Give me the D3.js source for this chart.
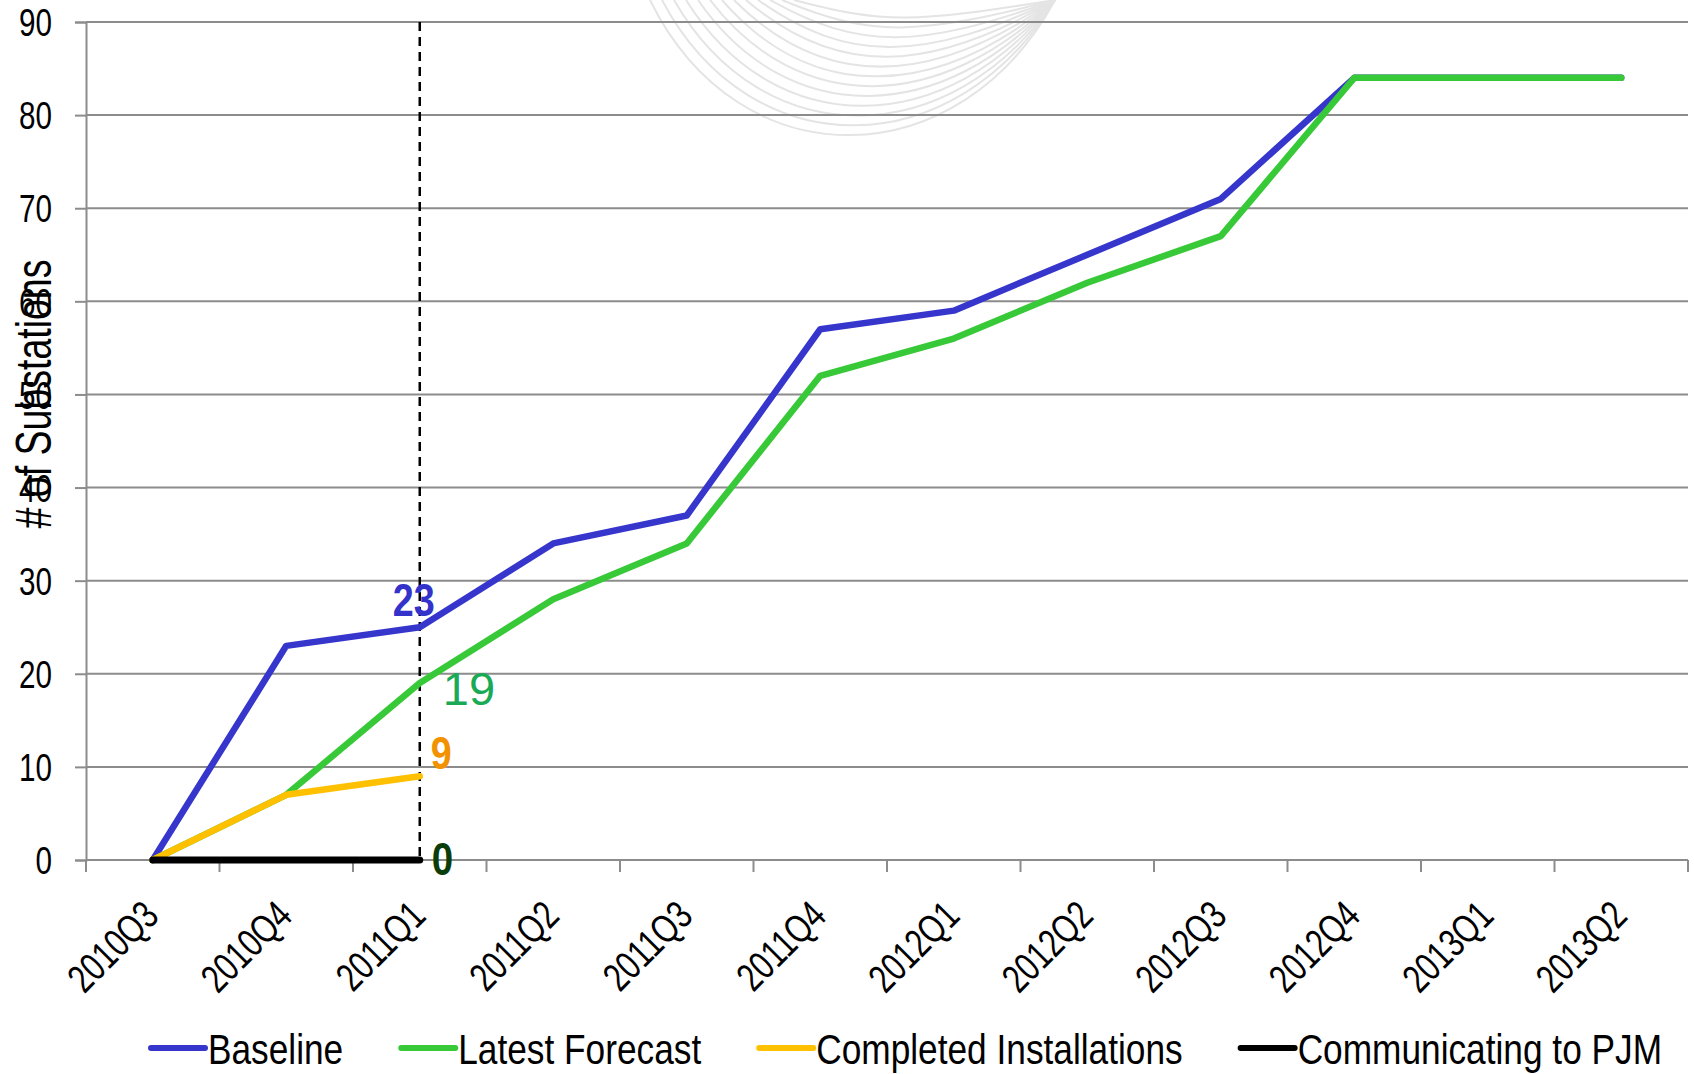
<!DOCTYPE html>
<html>
<head>
<meta charset="utf-8">
<script src="https://cdn.jsdelivr.net/npm/d3@7"></script>
<style>
  body { margin: 0; background: #fff; }
  svg { display: block; }
  text { font-family: "Liberation Sans", Arial, sans-serif; }
</style>
</head>
<body>
<svg id="chart" width="1694" height="1074"></svg>
<script>
// categories and series
const quarters = ['2010Q3', '2010Q4', '2011Q1', '2011Q2', '2011Q3', '2011Q4',
  '2012Q1', '2012Q2', '2012Q3', '2012Q4', '2013Q1', '2013Q2'];
const baseline = [0, 23, 25, 34, 37, 57, 59, 65, 71, 84, 84, 84];
const latestForecast = [0, 7, 19, 28, 34, 52, 56, 62, 67, 84, 84, 84];
const completed = [0, 7, 9];
const communicating = [0, 0, 0];
const yTicks = [0, 10, 20, 30, 40, 50, 60, 70, 80, 90];
const legendNames = ['Baseline', 'Latest Forecast', 'Completed Installations', 'Communicating to PJM'];
// callouts at the "today" quarter
const callouts = [
  { text: '23', value: 25 },
  { text: '19', value: 19 },
  { text: '9', value: 9 },
  { text: '0', value: 0 }
];
const todayQuarter = '2011Q1';

const LEFT = 86;
const RIGHT = 1688;
const TOP = 22;
const BOTTOM = 860;
// no narrow font installed, so squeeze Arial-metric text sideways
const NARROW = 'scale(0.82,1)';

const svg = d3.select('svg#chart');

const x = d3.scaleBand().domain(quarters).range([LEFT, RIGHT]);
const y = d3.scaleLinear().domain([0, 90]).range([BOTTOM, TOP]);
const cx = (q) => x(q) + x.bandwidth() / 2;

// faint watermark arcs at the top
const wm = svg.append('g').attr('fill', 'none').attr('stroke', '#e4e4e4').attr('stroke-width', 2);
for (let i = 0; i < 13; i++) {
  const bottom = 138 - i * 10;
  const x0 = 650 + i * 12;
  wm.append('path')
    .attr('d', `M${x0},0 C${x0 + 90},${bottom * 1.33} ${960 - i * 4},${bottom * 1.28} 1055,0`);
}

// gridlines
svg.append('g')
  .selectAll('line')
  .data(yTicks.slice(1))
  .enter()
  .append('line')
  .attr('x1', LEFT)
  .attr('x2', RIGHT)
  .attr('y1', (d) => y(d))
  .attr('y2', (d) => y(d))
  .attr('stroke', '#8c8c8c')
  .attr('stroke-width', 2);

// y axis
const yAxis = svg.append('g')
  .attr('transform', `translate(${LEFT},0)`)
  .call(d3.axisLeft(y).tickValues(yTicks).tickSize(11));
yAxis.select('.domain').attr('stroke', '#8c8c8c').attr('stroke-width', 2);
yAxis.selectAll('.tick line').attr('stroke', '#8c8c8c').attr('stroke-width', 2);
yAxis.selectAll('.tick text')
  .attr('font-family', null)
  .attr('font-size', 38)
  .attr('fill', '#000')
  .attr('x', null)
  .attr('dy', '0.36em')
  .attr('text-anchor', 'end')
  .attr('transform', `translate(-34,0) scale(0.78,1)`);

// x axis: ticks on the band edges
svg.append('line')
  .attr('x1', LEFT).attr('x2', RIGHT)
  .attr('y1', y(0)).attr('y2', y(0))
  .attr('stroke', '#8c8c8c').attr('stroke-width', 2);
const edges = quarters.map((q) => x(q)).concat([RIGHT]);
svg.append('g')
  .selectAll('line')
  .data(edges)
  .enter()
  .append('line')
  .attr('x1', (d) => d).attr('x2', (d) => d)
  .attr('y1', y(0)).attr('y2', y(0) + 12)
  .attr('stroke', '#8c8c8c').attr('stroke-width', 2);

svg.append('g')
  .selectAll('text')
  .data(quarters)
  .enter()
  .append('text')
  .attr('text-anchor', 'end')
  .attr('font-size', 40)
  .attr('transform', (d) => `translate(${cx(d) + 8},${y(0) + 58}) rotate(-45) scale(0.76,1)`)
  .text((d) => d);

// y title
svg.append('text')
  .attr('transform', 'translate(51,394) rotate(-90) scale(0.75,1)')
  .attr('text-anchor', 'middle')
  .attr('font-size', 50)
  .text('# of Substations');

// today marker
svg.append('line')
  .attr('x1', cx(todayQuarter)).attr('x2', cx(todayQuarter))
  .attr('y1', y(90)).attr('y2', y(0))
  .attr('stroke', '#000').attr('stroke-width', 2.5)
  .attr('stroke-dasharray', '9,6');

// series lines
const line = d3.line()
  .x((d, i) => cx(quarters[i]))
  .y((d) => y(d));

const series = [
  { name: legendNames[0], values: baseline, color: '#3636cc', width: 6.5 },
  { name: legendNames[1], values: latestForecast, color: '#38c938', width: 6.5 },
  { name: legendNames[2], values: completed, color: '#ffc000', width: 6.5 },
  { name: legendNames[3], values: communicating, color: '#000000', width: 7 }
];

svg.append('g')
  .selectAll('path')
  .data(series)
  .enter()
  .append('path')
  .attr('d', (d) => line(d.values))
  .attr('fill', 'none')
  .attr('stroke', (d) => d.color)
  .attr('stroke-width', (d) => d.width)
  .attr('stroke-linecap', 'round')
  .attr('stroke-linejoin', 'round');

// callout numbers
const calloutStyle = [
  { dx: -6, dy: -11, anchor: 'middle', color: '#3333cc', weight: 'bold', squeeze: true, size: 46 },
  { dx: 23, dy: 22, anchor: 'start', color: '#1aaa55', weight: 'normal', squeeze: false, size: 47 },
  { dx: 11, dy: -7, anchor: 'start', color: '#f39200', weight: 'bold', squeeze: true, size: 46 },
  { dx: 12, dy: 15, anchor: 'start', color: '#0b3d0b', weight: 'bold', squeeze: true, size: 47 }
];
svg.append('g')
  .selectAll('text')
  .data(callouts)
  .enter()
  .append('text')
  .attr('transform', (d, i) => {
    const st = calloutStyle[i];
    return `translate(${cx(todayQuarter) + st.dx},${y(d.value) + st.dy})` + (st.squeeze ? ` ${NARROW}` : '');
  })
  .attr('text-anchor', (d, i) => calloutStyle[i].anchor)
  .attr('fill', (d, i) => calloutStyle[i].color)
  .attr('font-weight', (d, i) => calloutStyle[i].weight)
  .attr('font-size', (d, i) => calloutStyle[i].size)
  .text((d) => d.text);

// legend
const legend = svg.append('g').attr('transform', 'translate(151,1048)');
let lx = 0;
series.forEach((s) => {
  legend.append('line')
    .attr('x1', lx).attr('x2', lx + 54)
    .attr('y1', 0).attr('y2', 0)
    .attr('stroke', s.color).attr('stroke-width', 6)
    .attr('stroke-linecap', 'round');
  const t = legend.append('text')
    .attr('transform', `translate(${lx + 57},16) ${NARROW}`)
    .attr('font-size', 43)
    .text(s.name);
  lx += 57 + t.node().getComputedTextLength() * 0.82 + 58;
});
</script>
</body>
</html>
